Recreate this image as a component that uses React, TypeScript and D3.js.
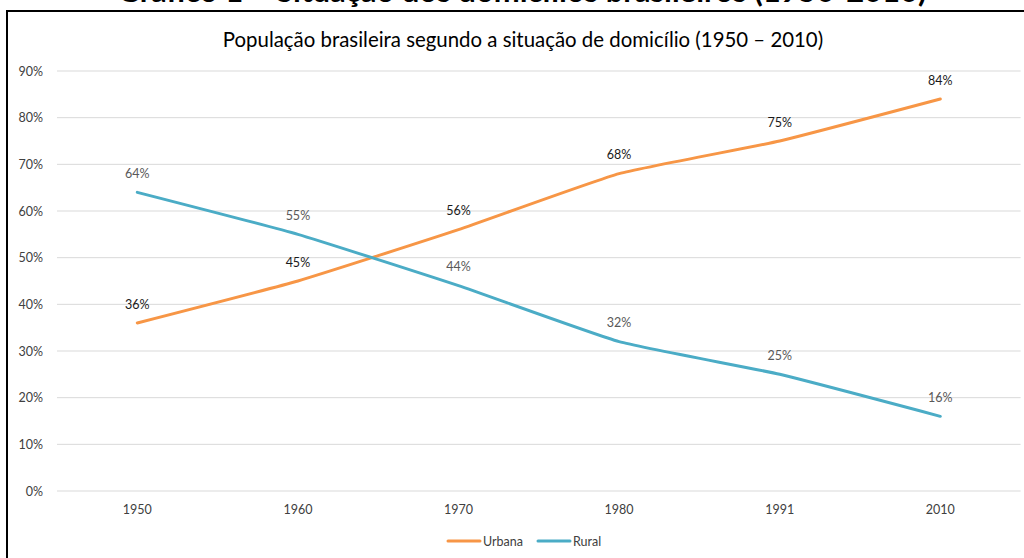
import React from 'react';
import * as d3 from 'd3';

const years = ['1950', '1960', '1970', '1980', '1991', '2010'];
const urbana = [36, 45, 56, 68, 75, 84];
const rural = [64, 55, 44, 32, 25, 16];
const yTicks = [0, 10, 20, 30, 40, 50, 60, 70, 80, 90];

const W = 1024, H = 558;
const font = 'Lato, "Open Sans", sans-serif';

export default function App() {
  const x = d3.scaleBand().domain(years).range([57, 1020.6]);
  const y = d3.scaleLinear().domain([0, 90]).range([491, 71]);
  const cx = (d: string) => (x(d) as number) + x.bandwidth() / 2;

  const line = d3.line<number>()
    .x((d, i) => cx(years[i]))
    .y(d => y(d))
    .curve(d3.curveCardinal.tension(0.6));

  const series = [
    { name: 'Urbana', values: urbana, color: '#F79646', labelColor: '#1a1a1a' },
    { name: 'Rural', values: rural, color: '#4BACC6', labelColor: '#595959' },
  ];

  return (
    <svg width={W} height={H} style={{ position: 'absolute', left: 0, top: 0, background: '#fff' }}>
      {/* chart heading that sits above the frame, mostly cut off as in the source */}
      <text x={522} y={2} textAnchor="middle" fontFamily={font} fontWeight="bold" fontSize={31} fill="#000">
        Gráfico 1 – Situação dos domicílios brasileiros (1950-2010)
      </text>
      <rect x={7} y={11} width={1030} height={560} fill="#fff" stroke="#000" strokeWidth={2} />
      <text x={523} y={47} textAnchor="middle" fontFamily={font} fontSize={20.4} fill="#000">
        População brasileira segundo a situação de domicílio (1950 – 2010)
      </text>
      {yTicks.map(t => (
        <g key={t}>
          <line x1={57} x2={1020.6} y1={y(t)} y2={y(t)} stroke="#d9d9d9" strokeWidth={1} />
          <text x={43} y={y(t) + 4.5} textAnchor="end" fontFamily={font} fontSize={12.5} fill="#404040">{t}%</text>
        </g>
      ))}
      {years.map(yr => (
        <text key={yr} x={cx(yr)} y={514} textAnchor="middle" fontFamily={font} fontSize={12.5} fill="#404040">{yr}</text>
      ))}
      {series.map(s => (
        <g key={s.name}>
          <path d={line(s.values) as string} fill="none" stroke={s.color} strokeWidth={3} strokeLinecap="round" />
          {s.values.map((v, i) => (
            <text key={i} x={cx(years[i])} y={y(v) - 14.5} textAnchor="middle" fontFamily={font} fontSize={12.5} fill={s.labelColor}>{v}%</text>
          ))}
        </g>
      ))}
      {series.map((s, i) => {
        const lx = i === 0 ? 448 : 538;
        return (
          <g key={s.name}>
            <line x1={lx} x2={lx + 32} y1={541} y2={541} stroke={s.color} strokeWidth={3} strokeLinecap="round" />
            <text x={lx + 35} y={545.5} fontFamily={font} fontSize={12.5} fill="#404040">{s.name}</text>
          </g>
        );
      })}
    </svg>
  );
}
